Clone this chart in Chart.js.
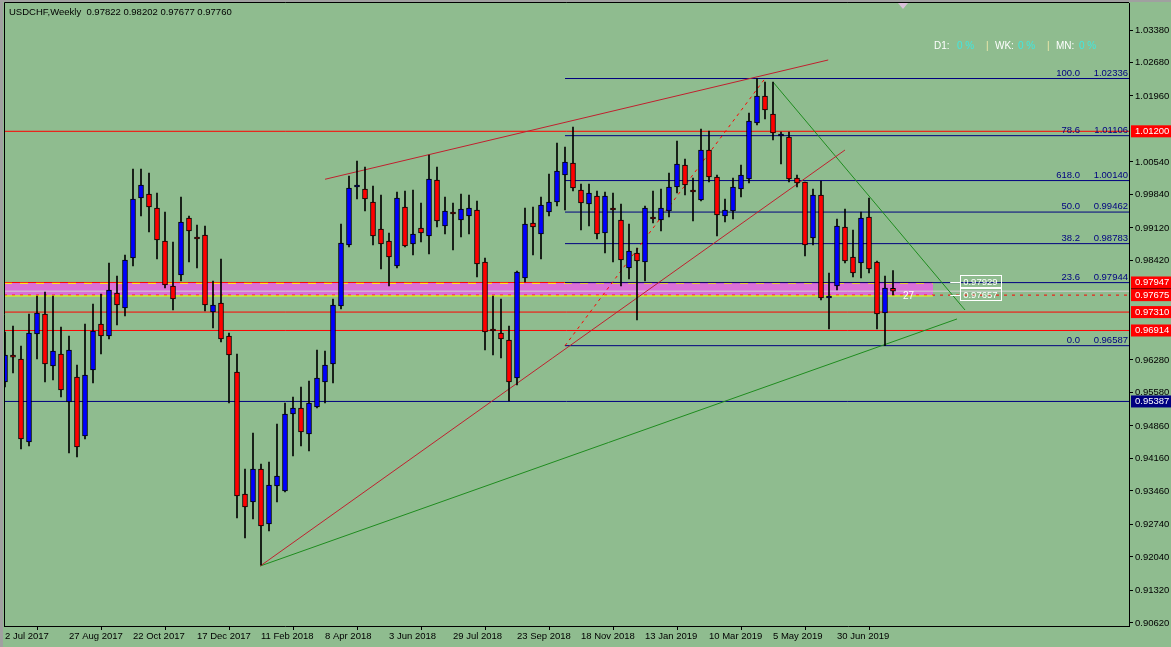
<!DOCTYPE html>
<html><head><meta charset="utf-8">
<style>
html,body{margin:0;padding:0;background:#8FBC8F;overflow:hidden;}
canvas{display:block;}
</style>
<script src="https://cdn.jsdelivr.net/npm/chart.js@4.4.1/dist/chart.umd.min.js"></script>
</head><body>
<canvas id="c" width="1171" height="647"></canvas>
<script>
// ---------------- DATA ----------------
const chartTitle = 'USDCHF,Weekly  0.97822 0.98202 0.97677 0.97760';
const opens = [
 0.95806,0.96350,0.96301,0.94515,0.96839,0.97269,0.96150,0.96408,0.95375,0.95913,
 0.94644,0.96064,0.97054,0.96796,0.97721,0.97398,0.98474,0.99765,0.99851,0.99550,
 0.98840,0.97872,0.98108,0.99335,0.98926,0.98969,0.97312,0.97506,0.96796,0.96021,
 0.93396,0.93224,0.93934,0.92750,0.93568,0.93460,0.95117,0.95246,0.94687,0.95268,
 0.95806,0.96193,0.97441,0.98754,1.00002,0.99959,0.99679,0.99098,0.98840,0.98302,
 0.99572,0.98775,0.99120,0.98948,1.00153,0.99163,0.99443,0.99292,0.99378,0.99507,
 0.98388,0.96925,0.96860,0.96710,0.95892,0.98044,0.99227,0.98991,0.99464,0.99679,
 1.00260,1.00518,0.99937,0.99636,0.99808,0.99012,0.99529,0.99292,0.98259,0.98582,
 0.98388,0.99356,0.99292,0.99486,1.00002,1.00475,0.99937,0.99722,1.00798,1.00217,
 0.99378,0.99486,0.99959,1.00174,1.01379,1.01960,1.01573,1.01099,1.01078,1.00196,
 1.00110,0.98905,0.99830,0.97613,0.97872,0.99141,0.98496,0.98367,0.99356,0.98388,
 0.97290,0.97822];
const highs = [
 0.96882,0.97011,0.96580,0.97269,0.97656,0.97743,0.97656,0.96989,0.96796,0.96172,
 0.97054,0.97484,0.97699,0.98367,0.98087,0.98539,1.00389,1.00389,1.00303,0.99873,
 0.99464,0.98818,0.99787,0.99378,0.99184,0.99163,0.97979,0.98453,0.96860,0.96408,
 0.93934,0.94708,0.94041,0.94084,0.94902,0.95354,0.95483,0.95698,0.95827,0.96494,
 0.96473,0.97592,0.99206,1.00239,1.00561,1.00432,1.00024,0.99830,0.99012,0.99894,
 0.99916,0.99937,0.99658,1.00691,1.00432,0.99787,0.99658,0.99851,0.99830,0.99701,
 0.98474,0.97656,0.97592,0.97011,0.98194,0.99550,0.99572,0.99787,1.00282,1.00949,
 1.00863,1.01293,1.00067,1.00067,0.99916,0.99894,0.99873,0.99636,0.99206,0.98689,
 0.99593,0.99916,0.99959,1.00303,1.00992,1.00605,1.00196,1.01250,1.01207,1.00260,
 0.99744,1.00196,1.00475,1.01594,1.02336,1.02261,1.02261,1.01186,1.01186,1.00260,
 1.00110,0.99959,1.00131,0.98151,0.99313,0.99529,0.99077,0.99464,0.99765,0.98410,
 0.98087,0.98202];
const lows = [
 0.95698,0.95999,0.94364,0.94429,0.96301,0.95806,0.95849,0.95483,0.94278,0.94192,
 0.94579,0.95784,0.96408,0.96731,0.97032,0.97226,0.98302,0.99378,0.99034,0.98453,
 0.97829,0.97355,0.97979,0.98388,0.98259,0.97334,0.96968,0.96667,0.95354,0.92879,
 0.92449,0.92858,0.91868,0.92599,0.93224,0.93439,0.94213,0.94429,0.94321,0.95246,
 0.95354,0.95784,0.97377,0.98711,0.99744,0.99486,0.98754,0.98237,0.97872,0.98259,
 0.98711,0.98539,0.98818,0.98560,0.99141,0.98991,0.98646,0.98926,0.98991,0.98065,
 0.96494,0.96387,0.96322,0.95397,0.95741,0.97958,0.98539,0.98453,0.99378,0.99593,
 0.99507,0.99916,0.99077,0.99163,0.98883,0.98582,0.98388,0.97872,0.98022,0.97140,
 0.97979,0.99227,0.99055,0.99356,0.99873,0.99830,0.99270,0.99701,1.00110,0.98948,
 0.99249,0.99313,0.99787,1.00088,1.01336,1.01465,1.01013,1.00497,1.00110,1.00002,
 0.98517,0.98754,0.97570,0.96946,0.97786,0.98367,0.98065,0.98044,0.98151,0.96946,
 0.96587,0.97677];
const closes = [
 0.96387,0.96340,0.94579,0.96860,0.97290,0.96193,0.96473,0.95634,0.96494,0.94407,
 0.95956,0.96903,0.96796,0.97786,0.97463,0.98431,0.99744,1.00045,0.99572,0.98861,
 0.97893,0.97592,0.99249,0.99055,0.98883,0.97463,0.97463,0.96731,0.96387,0.93353,
 0.93116,0.93934,0.92707,0.93589,0.93783,0.95117,0.95246,0.94730,0.95354,0.95892,
 0.96172,0.97463,0.98797,0.99980,1.00045,0.99744,0.98948,0.98775,0.98496,0.99765,
 0.98732,0.98991,0.99012,1.00174,0.99270,0.99486,0.99421,0.99529,0.99550,0.98345,
 0.96882,0.96903,0.96731,0.95806,0.98173,0.99206,0.99141,0.99615,0.99679,1.00346,
 1.00540,0.99980,0.99658,0.99873,0.98991,0.99808,0.99507,0.98431,0.98625,0.98410,
 0.99550,0.99313,0.99550,1.00002,1.00497,1.00045,0.99894,1.00798,1.00217,0.99399,
 0.99507,1.00002,1.00260,1.01422,1.01960,1.01659,1.01164,1.01143,1.00174,1.00088,
 0.98754,0.99830,0.97613,0.97620,0.99163,0.98410,0.98151,0.99335,0.98237,0.97269,
 0.97829,0.97760];
const dateTickIndex = [0,8,16,24,32,40,48,56,64,72,80,88,96,104];
const dateTickLabels = ['2 Jul 2017','27 Aug 2017','22 Oct 2017','17 Dec 2017','11 Feb 2018','8 Apr 2018','3 Jun 2018','29 Jul 2018','23 Sep 2018','18 Nov 2018','13 Jan 2019','10 Mar 2019','5 May 2019','30 Jun 2019'];
const priceTicks = [1.03380,1.02680,1.01960,1.00540,0.99840,0.99120,0.98420,0.96280,0.95580,0.94860,0.94160,0.93460,0.92740,0.92040,0.91320,0.90620];
const fibLevelNames = ['100.0','78.6','618.0','50.0','38.2','23.6','0.0'];
const fibLevelPrices = [1.02336,1.01106,1.00140,0.99462,0.98783,0.97944,0.96587];
const fibStartBar = 70;
const redLevels = [1.01200,0.97310,0.96914];
const navyLevel = 0.95387;
const zoneTop = 0.97947, zoneBottom = 0.97675, zoneEndBar = 116;
const labelTop = 0.97929, labelBottom = 0.97657;
const bidPrice = 0.97760;
const redUpperLine = [[40,1.00168],[102.9,1.02735]];
const redLowerLine = [[31.9,0.91846],[105,1.00798]];
const fibDiagonal = [[70,0.96587],[95,1.02336]];
const greenDownLine = [[96,1.02261],[120,0.97355]];
const greenUpLine = [[31.9,0.91846],[119,0.97162]];
const infoLabels = ['D1:','WK:','MN:'];
const infoValues = ['0 %','0 %','0 %'];
const counterText = '27';
// view range
const viewX0 = -0.125, viewX1 = 140.5, viewY0 = 0.90555, viewY1 = 1.03961;

// ---------------- CHART ----------------
const FONT = "'Liberation Sans', Arial, sans-serif";
const idx = opens.map((_, i) => i);
const bodyColors = idx.map(i => closes[i] >= opens[i] ? '#0000FF' : '#FF0000');

function seg(pts, color, dash, order, width) {
  return {type:'line', data: pts.map(p => ({x:p[0], y:p[1]})), borderColor: color, borderWidth: width || 1,
    borderDash: dash || [], pointRadius: 0, fill: false, order: order, tension: 0};
}
function hline(price, from, to, color, dash, order) {
  return seg([[from, price],[to, price]], color, dash, order);
}

const datasets = [];
datasets.push({type:'bar', label:'body', data: idx.map(i => ({x:i, y:[opens[i], closes[i]]})),
  backgroundColor: bodyColors, borderColor:'#000', borderWidth:1, borderSkipped:false,
  barThickness:5, grouped:false, minBarLength:2, order:0});
datasets.push({type:'bar', label:'wick', data: idx.map(i => ({x:i, y:[lows[i], highs[i]]})),
  backgroundColor:'#000', borderWidth:0, barThickness:1, grouped:false, order:1});
// trend lines
datasets.push(seg(redUpperLine, '#C0202E', [], 3));
datasets.push(seg(redLowerLine, '#C0202E', [], 3));
datasets.push(seg(fibDiagonal, '#FF0000', [3,4], 3));
datasets.push(seg(greenDownLine, '#1E8C1E', [], 3));
datasets.push(seg(greenUpLine, '#1E8C1E', [], 3));
// fib levels
fibLevelPrices.forEach(p => datasets.push(hline(p, fibStartBar, viewX1, '#000080', [], 4)));
// horizontal levels
redLevels.forEach(p => datasets.push(hline(p, viewX0, viewX1, '#FF0000', [], 5)));
datasets.push(hline(navyLevel, viewX0, viewX1, '#000080', [], 5));
datasets.push(hline(bidPrice, viewX0, viewX1, '#D3D3D3', [], 5));
datasets.push(hline(labelTop, viewX0, zoneEndBar, '#FFFF00', [8,8], 5));
datasets.push(hline(labelBottom, viewX0, zoneEndBar, '#FFFF00', [], 5));
datasets.push(hline(zoneBottom, viewX0, viewX1, '#FF0000', [3,5], 5));
// zone
datasets.push({type:'line', data:[{x:viewX0,y:zoneTop},{x:zoneEndBar,y:zoneTop}], borderColor:'#FF0000', borderWidth:1,
  pointRadius:0, fill:{value: zoneBottom}, backgroundColor:'#DA70D6', order:10});

const overlay = {
  id:'overlay',
  beforeDraw(chart) {
    const ctx = chart.ctx;
    ctx.save();
    ctx.fillStyle = '#8FBC8F'; ctx.fillRect(0, 0, chart.width, chart.height);
    ctx.fillStyle = '#A0A0A0'; ctx.fillRect(0, 0, 3, chart.height); ctx.fillRect(0, 0, chart.width, 2);
    ctx.restore();
  },
  afterDraw(chart) {
    const {ctx, chartArea:a, scales:{x, y}} = chart;
    ctx.save();
    // frame
    ctx.strokeStyle = '#000'; ctx.lineWidth = 1;
    ctx.beginPath(); ctx.moveTo(a.left + 0.5, a.bottom); ctx.lineTo(a.left + 0.5, a.top - 0.5); ctx.lineTo(a.right, a.top - 0.5); ctx.stroke();
    // shift marker
    ctx.fillStyle = '#D8BFD8';
    ctx.beginPath(); ctx.moveTo(898, a.top); ctx.lineTo(908, a.top); ctx.lineTo(903, a.top + 6); ctx.closePath(); ctx.fill();
    // title
    ctx.font = '9.5px ' + FONT; ctx.textBaseline = 'middle'; ctx.textAlign = 'left';
    ctx.fillStyle = '#000'; ctx.fillText(chartTitle, 9, 12);
    // info text
    ctx.font = '10px ' + FONT;
    let ix = 934; const iy = 46;
    infoLabels.forEach((t, k) => {
      ctx.fillStyle = '#FFFFFF'; ctx.fillText(t, ix, iy); ix += 23;
      ctx.fillStyle = '#40E8E0'; ctx.fillText(infoValues[k], ix, iy); ix += 29;
      if (k < infoLabels.length - 1) { ctx.fillStyle = '#EEE8AA'; ctx.fillText('|', ix, iy); ix += 9; }
    });
    // fib labels
    ctx.font = '9.5px ' + FONT;
    ctx.fillStyle = '#000080'; ctx.textBaseline = 'bottom'; ctx.textAlign = 'right';
    fibLevelNames.forEach((n, k) => {
      const py = y.getPixelForValue(fibLevelPrices[k]);
      ctx.fillText(n, a.right - 49, py - 0.5);
      ctx.fillText(fibLevelPrices[k].toFixed(5), a.right - 1, py - 0.5);
    });
    // white price labels near zone
    const bx = x.getPixelForValue(119.4);
    [[zoneTop, labelTop],[zoneBottom, labelBottom]].forEach(([lp, lv]) => {
      const py = Math.round(y.getPixelForValue(lp));
      ctx.strokeStyle = '#FFFFFF'; ctx.beginPath(); ctx.moveTo(bx - 10, py + 0.5); ctx.lineTo(bx, py + 0.5); ctx.stroke();
      ctx.strokeRect(Math.round(bx) + 0.5, py - 6.5, 41, 12);
      ctx.fillStyle = '#FFFFFF'; ctx.textAlign = 'left'; ctx.textBaseline = 'middle';
      ctx.fillText(lv.toFixed(5), bx + 3, py);
    });
    // counter text
    ctx.font = '10px ' + FONT; ctx.fillStyle = '#FFFFFF'; ctx.textAlign = 'left';
    ctx.fillText(counterText, x.getPixelForValue(112.25), y.getPixelForValue(zoneBottom) + 1);
    // axis price boxes
    ctx.font = '9.5px ' + FONT;
    const axBox = (price, color, txt) => {
      const py = y.getPixelForValue(price);
      ctx.fillStyle = color; ctx.fillRect(a.right + 2, py - 6, chart.width - a.right - 2, 12);
      if (txt) { ctx.fillStyle = '#FFFFFF'; ctx.textAlign = 'left'; ctx.textBaseline = 'middle'; ctx.fillText(price.toFixed(5), a.right + 6, py); }
    };
    axBox(bidPrice, '#000000', false);
    axBox(zoneTop, '#FF0000', true);
    axBox(zoneBottom, '#FF0000', true);
    redLevels.forEach(p => axBox(p, '#FF0000', true));
    axBox(navyLevel, '#000080', true);
    ctx.restore();
  }
};

new Chart(document.getElementById('c'), {
  type: 'bar',
  data: { datasets },
  options: {
    responsive: false, animation: false, devicePixelRatio: 1,
    layout: { padding: { left: 4, top: 3, right: 0, bottom: 0 } },
    plugins: { legend: { display: false }, tooltip: { enabled: false }, title: { display: false } },
    scales: {
      x: {
        type: 'linear', min: viewX0, max: viewX1, offset: false,
        afterBuildTicks: s => { s.ticks = dateTickIndex.map(v => ({ value: v })); },
        afterFit: s => { s.height = 21; s.paddingLeft = 0; s.paddingRight = 0; },
        grid: { drawOnChartArea: false, drawTicks: true, tickLength: 4, color: '#000', tickColor: '#000' },
        border: { display: true, color: '#000', width: 1 },
        ticks: { align: 'start', maxRotation: 0, autoSkip: false, padding: 1, color: '#000',
          font: { family: FONT, size: 9.5 },
          callback: (v, i) => dateTickLabels[dateTickIndex.indexOf(v)] }
      },
      y: {
        type: 'linear', position: 'right', min: viewY0, max: viewY1,
        afterBuildTicks: s => { s.ticks = priceTicks.map(v => ({ value: v })); },
        afterFit: s => { s.width = 42; s.paddingTop = 0; s.paddingBottom = 0; },
        grid: { drawOnChartArea: false, drawTicks: true, tickLength: 4, color: '#000', tickColor: '#000' },
        border: { display: true, color: '#000', width: 1 },
        ticks: { padding: 2, color: '#000', font: { family: FONT, size: 9.5 }, callback: v => v.toFixed(5) }
      }
    }
  },
  plugins: [overlay]
});
</script>
</body></html>
